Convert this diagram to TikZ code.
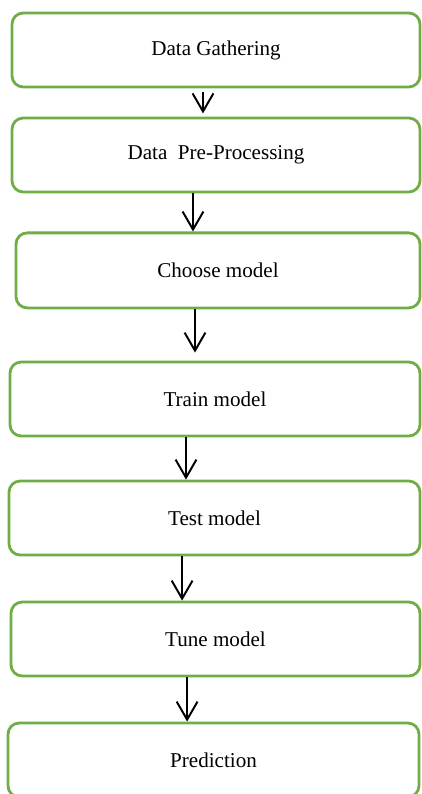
\documentclass[tikz,border=0pt]{standalone}
\usepackage{fontspec}
\setmainfont{Liberation Serif}
\usetikzlibrary{arrows.meta}
\definecolor{boxgreen}{RGB}{112,173,71}
\begin{document}
\begin{tikzpicture}[
	paso/.style={draw=boxgreen, line width=2pt, rounded corners=0.28cm, minimum height=1.85cm, inner sep=0pt, font=\fontsize{15}{18}\selectfont},
	flecha/.style={-{Straight Barb[length=0.45cm,width=0.52cm]}, line width=1.4pt, black}]
	\useasboundingbox (0,0) rectangle (10.525,-19.85);
	% Cajas
		\node[paso, minimum width=10.2cm] (gather) at (5.40,-1.25) {Data Gathering};
		\node[paso, minimum width=10.2cm] (prep) at (5.40,-3.875) {Data\ \ Pre-Processing};
		\node[paso, minimum width=10.1cm, minimum height=1.875cm] (choose) at (5.45,-6.76) {Choose model};
		\node[paso, minimum width=10.25cm] (train) at (5.375,-9.975) {Train model};
		\node[paso, minimum width=10.275cm] (test) at (5.3625,-12.95) {Test model};
		\node[paso, minimum width=10.225cm] (tune) at (5.3875,-15.975) {Tune model};
		\node[paso, minimum width=10.275cm] (predict) at (5.3375,-19.0) {Prediction};
	% Flechas
		\draw[flecha, shorten <=0.08cm, shorten >=0.08cm] ([xshift=-0.325cm]gather.south) -- ([xshift=-0.325cm]gather.south |- prep.north);
		\draw[flecha] ([xshift=-0.575cm]prep.south) -- ([xshift=-0.575cm]prep.south |- choose.north);
		\draw[flecha, shorten >=0.2cm] ([xshift=-0.575cm]choose.south) -- ([xshift=-0.575cm]choose.south |- train.north);
		\draw[flecha] ([xshift=-0.725cm]train.south) -- ([xshift=-0.725cm]train.south |- test.north);
		\draw[flecha] ([xshift=-0.81cm]test.south) -- ([xshift=-0.81cm]test.south |- tune.north);
		\draw[flecha] ([xshift=-0.71cm]tune.south) -- ([xshift=-0.71cm]tune.south |- predict.north);
\end{tikzpicture}
\end{document}
